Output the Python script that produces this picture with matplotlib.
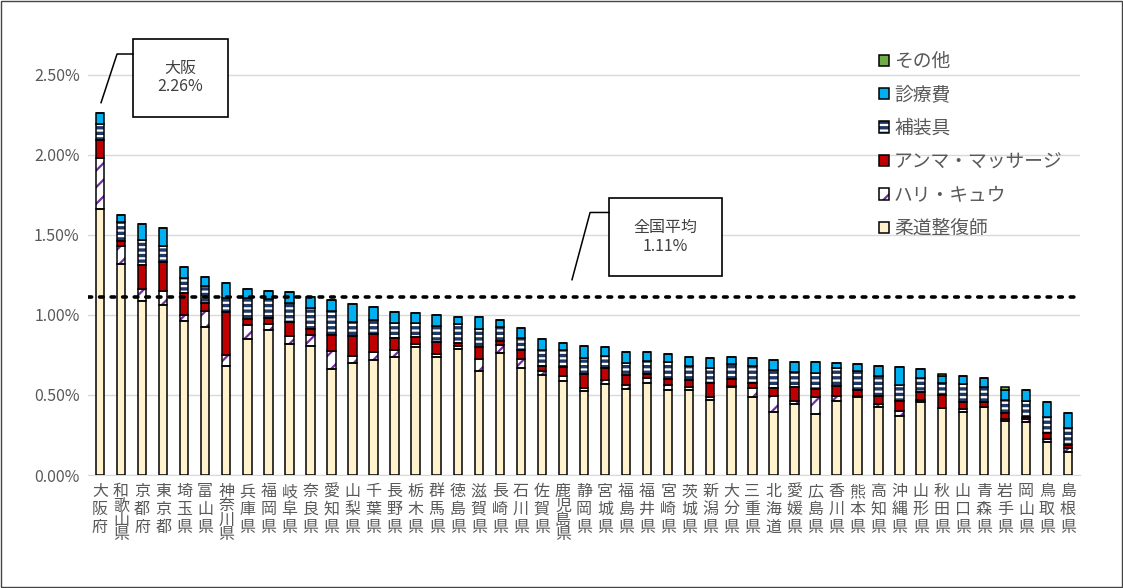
import matplotlib
matplotlib.use('Agg')
import matplotlib.pyplot as plt
from matplotlib.patches import Patch, Rectangle
import numpy as np

plt.rcParams['font.family'] = ['Noto Sans CJK JP', 'DejaVu Sans']
plt.rcParams['hatch.linewidth'] = 1.6

# 都道府県別 (%)
prefs = ['大阪府', '和歌山県', '京都府', '東京都', '埼玉県', '富山県', '神奈川県', '兵庫県', '福岡県',
         '岐阜県', '奈良県', '愛知県', '山梨県', '千葉県', '長野県', '栃木県', '群馬県', '徳島県',
         '滋賀県', '長崎県', '石川県', '佐賀県', '鹿児島県', '静岡県', '宮城県', '福島県', '福井県',
         '宮崎県', '茨城県', '新潟県', '大分県', '三重県', '北海道', '愛媛県', '広島県', '香川県',
         '熊本県', '高知県', '沖縄県', '山形県', '秋田県', '山口県', '青森県', '岩手県', '岡山県',
         '鳥取県', '島根県']

judo = [1.66, 1.32, 1.09, 1.06, 0.96, 0.925, 0.68, 0.85, 0.905, 0.82, 0.805, 0.66, 0.70, 0.72,
        0.735, 0.80, 0.74, 0.785, 0.65, 0.76, 0.67, 0.627, 0.59, 0.525, 0.57, 0.54, 0.577, 0.53,
        0.53, 0.467, 0.548, 0.488, 0.396, 0.442, 0.381, 0.46, 0.4875, 0.427, 0.369, 0.456, 0.419,
        0.392, 0.423, 0.335, 0.329, 0.204, 0.146]
hari = [0.32, 0.108, 0.071, 0.088, 0.04, 0.102, 0.069, 0.09, 0.036, 0.05, 0.069, 0.117, 0.042,
        0.048, 0.044, 0.021, 0.016, 0.019, 0.077, 0.055, 0.056, 0.025, 0.031, 0.017, 0.023, 0.025,
        0.029, 0.031, 0.017, 0.021, 0.005, 0.054, 0.10, 0.023, 0.104, 0.033, 0.004, 0.015, 0.031,
        0.013, 0.0, 0.019, 0.0, 0.017, 0.019, 0.021, 0.02]
anma = [0.115, 0.031, 0.152, 0.185, 0.1375, 0.046, 0.269, 0.037, 0.037, 0.087, 0.035, 0.096,
        0.127, 0.11, 0.075, 0.044, 0.073, 0.023, 0.073, 0.023, 0.056, 0.027, 0.054, 0.087, 0.073,
        0.062, 0.025, 0.04, 0.044, 0.085, 0.046, 0.033, 0.046, 0.087, 0.05, 0.065, 0.04, 0.052,
        0.06, 0.052, 0.081, 0.048, 0.031, 0.033, 0.017, 0.035, 0.021]
hosou = [0.096, 0.121, 0.154, 0.096, 0.092, 0.11, 0.087, 0.127, 0.123, 0.115, 0.136, 0.15, 0.089,
         0.088, 0.096, 0.087, 0.104, 0.115, 0.1125, 0.085, 0.073, 0.102, 0.108, 0.104, 0.077,
         0.071, 0.081, 0.104, 0.087, 0.094, 0.094, 0.106, 0.114, 0.092, 0.104, 0.108, 0.117,
         0.127, 0.102, 0.083, 0.073, 0.108, 0.098, 0.083, 0.098, 0.104, 0.104]
shinryo = [0.07, 0.042, 0.10, 0.113, 0.067, 0.054, 0.096, 0.061, 0.05, 0.073, 0.069, 0.069,
           0.113, 0.081, 0.069, 0.061, 0.069, 0.045, 0.077, 0.044, 0.063, 0.071, 0.044, 0.073,
           0.056, 0.069, 0.054, 0.054, 0.06, 0.064, 0.042, 0.05, 0.063, 0.064, 0.066, 0.035,
           0.046, 0.06, 0.1125, 0.056, 0.046, 0.054, 0.054, 0.063, 0.065, 0.094, 0.094]
sonota = [0.0] * 40 + [0.01, 0.0, 0.0, 0.021, 0.0, 0.0, 0.0]

avg = 1.11

# (label, values, face, hatch colour, hatch)
series = [
    ('柔道整復師', judo, '#FFF2CC', None, None),
    ('ハリ・キュウ', hari, 'white', '#7030A0', '//'),
    ('アンマ・マッサージ', anma, '#C00000', None, None),
    ('補装具', hosou, '#1F3864', 'white', '---'),
    ('診療費', shinryo, '#00B0F0', None, None),
    ('その他', sonota, '#70AD47', None, None),
]

fig = plt.figure(figsize=(11.23, 5.88), dpi=100)
ax = fig.add_axes([88 / 1123, 113 / 588, 992 / 1123, 445 / 588])

x = np.arange(len(prefs))
w = 0.4
bottom = np.zeros(len(prefs))
handles = []
for label, vals, face, hcol, hatch in series:
    vals = np.array(vals)
    if hatch:
        ax.bar(x, vals, w, bottom=bottom, color=face, edgecolor=hcol, hatch=hatch, lw=0, zorder=2)
        ax.bar(x, vals, w, bottom=bottom, fill=False, edgecolor='black', lw=1.1, zorder=3)
        h = (Patch(facecolor=face, edgecolor=hcol, hatch=hatch, lw=0),
             Patch(fill=False, edgecolor='black', lw=1.1))
    else:
        ax.bar(x, vals, w, bottom=bottom, color=face, edgecolor='black', lw=1.1, zorder=3)
        h = Patch(facecolor=face, edgecolor='black', lw=1.1)
    handles.append((h, label))
    bottom += vals
total = bottom

ax.axhline(avg, color='black', ls=(0, (1, 2.2)), lw=2.6, dash_capstyle='round', zorder=4)

ax.set_xlim(-0.57, len(prefs) - 0.43)
ax.set_ylim(0, 2.78)
ax.set_yticks(np.arange(0, 2.51, 0.5))
ax.set_yticklabels([f'{v:.2f}%' for v in np.arange(0, 2.51, 0.5)], fontsize=11.5, color='#595959')
ax.set_xticks(x)
ax.set_xticklabels(['\n'.join(p) for p in prefs], fontsize=11.5, color='#595959')
for t, p in zip(ax.get_xticklabels(), prefs):
    t.set_linespacing(0.78 if len(p) == 4 else 1.05)
ax.tick_params(length=0, pad=6)
ax.grid(axis='y', color='#D9D9D9', lw=1)
ax.set_axisbelow(True)
for s in ['top', 'right', 'left']:
    ax.spines[s].set_visible(False)
ax.spines['bottom'].set_color('#D9D9D9')

# legend (top entry is その他)
hs, ls = zip(*handles[::-1])
ax.legend(hs, ls, loc='upper left', bbox_to_anchor=((879 - 88) / 992, (475 - 51) / 445),
          frameon=False, fontsize=13.5, labelcolor='#595959', handlelength=0.55, handleheight=0.55,
          handletextpad=0.25, labelspacing=0.66, borderpad=0, borderaxespad=0)

# callouts
def callout(text, tip, elbow, box):
    x0, y0, x1, y1 = box
    ax.add_patch(Rectangle((x0, y0), x1 - x0, y1 - y0, facecolor='white', edgecolor='black',
                           lw=1.2, clip_on=False, zorder=5))
    ax.text((x0 + x1) / 2, (y0 + y1) / 2, text, ha='center', va='center', fontsize=11.5,
            color='#404040', linespacing=1.1, zorder=6)
    ax.plot([tip[0], elbow[0], x0], [tip[1], elbow[1], elbow[1]], color='black', lw=1.1,
            clip_on=False, zorder=5)

callout(f'大阪\n{total[0]:.2f}%', (0.05, total[0] + 0.065), (0.81, 2.63), (1.57, 2.2375, 6.08, 2.725))
callout(f'全国平均\n{avg:.2f}%', (22.43, avg + 0.11), (23.29, 1.64), (24.19, 1.244, 29.56, 1.731))

fig.add_artist(Rectangle((0.0005, 0.001), 0.999, 0.998, transform=fig.transFigure, fill=False,
                         edgecolor='#444444', lw=1))

fig.savefig('out.png', dpi=100)
